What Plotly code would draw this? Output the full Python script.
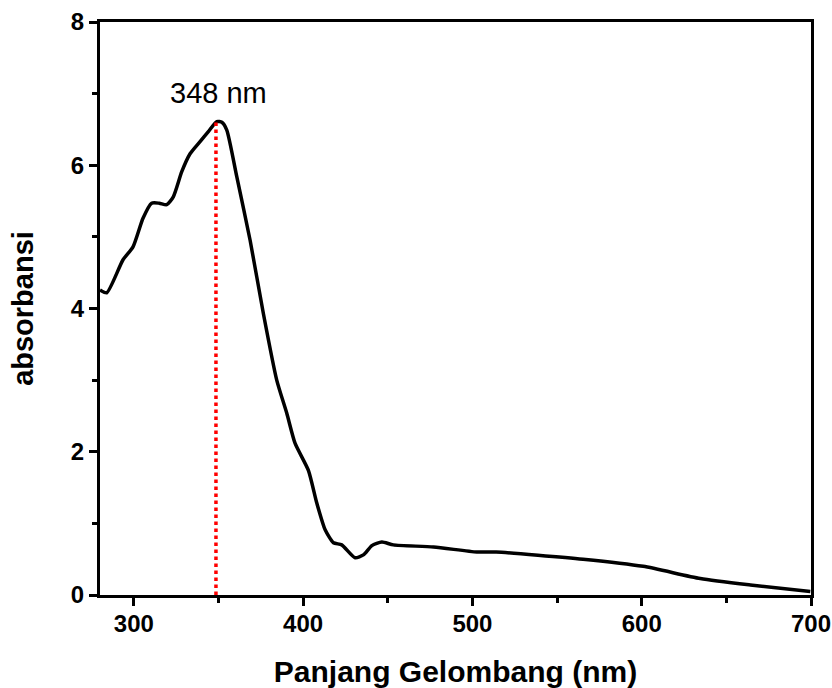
import plotly.graph_objects as go

wavelength = [280, 284, 293.6, 299.5, 305.4, 310.5, 315, 319.4, 323.3, 328.3, 333.2, 339.1, 344, 349, 352, 354.9,
              360.8, 368.7, 376.5, 384.4, 390.3, 395.2, 403.1, 408.1, 413, 417.9, 422.8, 430.7, 435.6,
              440.6, 446.5, 453.3, 477, 502.6, 514, 565.4, 600.9, 634.6, 664.2, 699.6]
absorbance = [4.26, 4.22, 4.68, 4.86, 5.26, 5.47, 5.47, 5.45, 5.56, 5.91, 6.16, 6.33, 6.47, 6.61, 6.6, 6.49,
              5.84, 4.95, 3.93, 3.0, 2.54, 2.12, 1.74, 1.28, 0.91, 0.73, 0.70, 0.52, 0.56,
              0.69, 0.74, 0.70, 0.67, 0.60, 0.60, 0.50, 0.40, 0.23, 0.14, 0.05]
peak_x = 348.5
peak_y = 6.61
peak_label = "348 nm"
x_ticks = [300, 400, 500, 600, 700]
y_ticks = [0, 2, 4, 6, 8]

FONT = "Liberation Sans, Arial, sans-serif"

fig = go.Figure()
fig.add_trace(go.Scatter(x=wavelength, y=absorbance, mode="lines",
                         line=dict(color="black", width=3.5, shape="spline", smoothing=0.6),
                         showlegend=False))
fig.add_trace(go.Scatter(x=[peak_x, peak_x], y=[0, peak_y], mode="lines",
                         line=dict(color="red", width=3.5, dash="dot"), showlegend=False))
fig.add_annotation(x=350, y=7.01, text=peak_label, showarrow=False,
                   font=dict(family=FONT, size=29, color="black"))

axis_common = dict(showline=True, linecolor="black", linewidth=3, mirror=True,
                   ticks="outside", ticklen=8, tickwidth=3, tickcolor="black",
                   showgrid=False, zeroline=False, automargin=False,
                   tickfont=dict(family=FONT, size=24, color="black", weight="bold"))
fig.update_xaxes(range=[280, 700], tickvals=x_ticks, ticklabelstandoff=-3,
                 minor=dict(tickvals=[350, 450, 550, 650], ticks="outside", ticklen=5, tickwidth=3, tickcolor="black"),
                 title=dict(text="<b>Panjang Gelombang (nm)</b>", standoff=26,
                            font=dict(family=FONT, size=30, color="black")),
                 **axis_common)
fig.update_yaxes(range=[0, 8], tickvals=y_ticks,
                 minor=dict(tickvals=[1, 3, 5, 7], ticks="outside", ticklen=5, tickwidth=3, tickcolor="black"),
                 title=dict(text="<b>absorbansi</b>", standoff=29,
                            font=dict(family=FONT, size=29, color="black")),
                 **axis_common)
fig.update_layout(width=832, height=688, margin=dict(l=100, r=21, t=22, b=93),
                  plot_bgcolor="white", paper_bgcolor="white")
fig.write_html("out.html", config={"displayModeBar": False},
               post_script="document.body.style.margin='0';document.body.style.overflow='hidden';")
